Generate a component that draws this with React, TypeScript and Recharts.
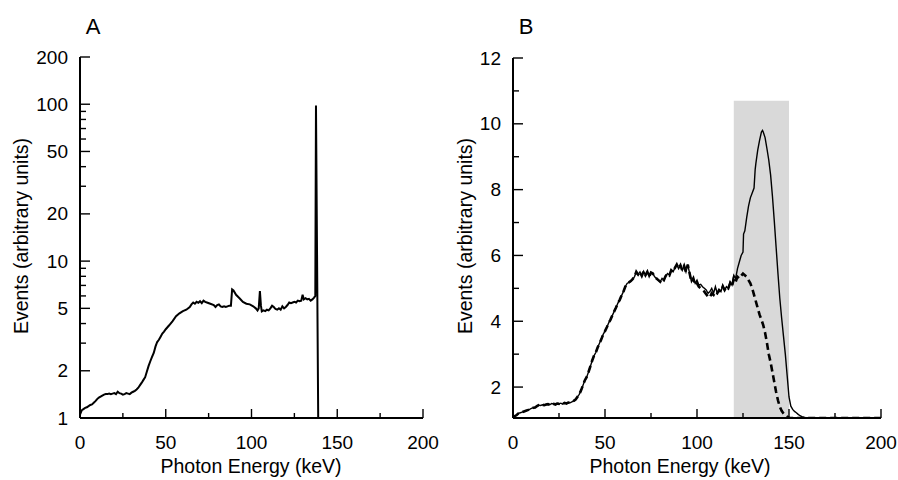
import React from "react";
import { LineChart, Line, XAxis, YAxis, ReferenceArea } from "recharts";

// ---------- Panel A data (log scale) ----------
const energyA = [
  0, 1, 2, 3, 4, 5, 6, 7, 8, 9,
  10, 11, 12, 13, 14, 15, 16, 17, 18, 19,
  20, 21, 22, 23, 24, 25, 26, 27, 28, 29,
  30, 31, 32, 33, 34, 35, 36, 37, 38, 39,
  40, 41, 42, 43, 44, 45, 46, 47, 48, 49,
  50, 52, 54, 56, 58, 60, 62, 64, 65, 66,
  67, 68, 69, 70, 71, 72, 73, 74, 76, 78,
  79, 80, 81, 82, 83, 84, 85, 86, 87, 88,
  88.7, 89.5, 91, 93, 95, 97, 99, 101, 102.5, 103.5,
  104.2, 104.9, 105.5, 106, 107, 108, 109, 110, 111, 112,
  113, 114, 115, 116, 117, 118, 119, 120, 121, 122,
  123, 124, 125, 126, 127, 128, 129, 129.8, 130.5, 131.5,
  132.5, 133.5, 134.5, 135.5, 136.5, 137.2, 137.6, 138.9, 145, 200,
];
const eventsA = [
  1.05, 1.12, 1.14, 1.16, 1.17, 1.19, 1.21, 1.22, 1.25, 1.28,
  1.32, 1.35, 1.37, 1.39, 1.41, 1.42, 1.42, 1.43, 1.42, 1.43,
  1.44, 1.42, 1.47, 1.44, 1.43, 1.41, 1.42, 1.44, 1.43, 1.42,
  1.45, 1.47, 1.49, 1.52, 1.56, 1.62, 1.68, 1.75, 1.82, 1.98,
  2.15, 2.3, 2.45, 2.6, 2.85, 3.05, 3.15, 3.3, 3.45, 3.55,
  3.68, 3.9, 4.15, 4.45, 4.65, 4.8, 4.9, 5.1, 5.3, 5.45,
  5.35, 5.5, 5.42, 5.55, 5.4, 5.6, 5.5, 5.45, 5.35, 5.25,
  5.1, 5.25, 5.3, 5.15, 5.1, 5.15, 5.1, 5.15, 5.2, 5.2,
  6.6, 6.5, 6.1, 5.8, 5.5, 5.35, 5.3, 5.15, 5.0, 4.85,
  5.0, 6.45, 5.2, 4.78, 4.85, 4.8, 4.9, 4.85, 5.0, 5.2,
  5.1, 4.95, 4.9, 5.0, 4.9, 5.15, 5.0, 5.1, 5.25, 5.45,
  5.4, 5.45, 5.5, 5.45, 5.6, 5.55, 5.6, 6.1, 5.7, 5.8,
  5.7, 5.75, 5.6, 5.7, 5.85, 6.0, 98, 1, 1, 1,
];

// ---------- Panel B data (linear scale) ----------
const lowEnergyB = [
  0, 1, 2, 3, 4, 5, 6, 7, 8, 9,
  10, 11, 12, 13, 14, 15, 16, 17, 18, 19,
  20, 21, 22, 23, 24, 25, 26, 27, 28, 29,
  30, 31, 32, 33, 34, 35, 36, 37, 38, 39,
  40, 41, 42, 43, 44, 45, 46, 47, 48, 49,
  50, 51, 52, 53, 54, 55, 56, 57, 58, 59,
  60, 61, 62, 63, 64, 65, 66, 67, 68, 69,
  70, 71, 72, 73, 74, 75, 76, 77, 78, 79,
  80, 81, 82, 83, 84, 85, 86, 87, 88, 89,
  90, 91, 92, 93, 94, 95, 96,
];
const lowEventsB = [
  1.08, 1.12, 1.15, 1.2, 1.22, 1.24, 1.26, 1.28, 1.3, 1.32,
  1.35, 1.37, 1.38, 1.42, 1.45, 1.44, 1.46, 1.45, 1.47, 1.48,
  1.46, 1.5, 1.49, 1.47, 1.5, 1.49, 1.51, 1.48, 1.52, 1.5,
  1.53, 1.52, 1.55, 1.58, 1.62, 1.7, 1.78, 1.9, 2.05, 2.2,
  2.3, 2.45, 2.62, 2.8, 2.95, 3.05, 3.2, 3.33, 3.45, 3.6,
  3.7, 3.82, 3.95, 4.05, 4.18, 4.3, 4.42, 4.55, 4.65, 4.78,
  4.9, 5.05, 5.15, 5.18, 5.22, 5.28, 5.35, 5.5, 5.42, 5.5,
  5.38, 5.52, 5.4, 5.5, 5.35, 5.48, 5.45, 5.35, 5.3, 5.25,
  5.2, 5.3, 5.25, 5.38, 5.45, 5.4, 5.55, 5.5, 5.62, 5.72,
  5.6, 5.7, 5.55, 5.68, 5.5, 5.72, 5.45,
];

const solidTailEnergy = [
  97, 98, 99, 100, 101, 102, 103, 104, 105, 106,
  107, 108, 109, 110, 111, 112, 113, 114, 115, 116,
  117, 118, 119, 120, 121, 122, 123, 124, 125, 125.3,
  126, 127, 128, 129, 130, 131, 131.6, 132, 133, 134,
  135, 135.6, 136, 137, 138, 139, 140, 141, 142, 143,
  144, 145, 146, 147, 148, 149, 150, 151, 152, 153,
  154, 155, 156, 157, 159, 161, 200,
];
const solidTailEvents = [
  5.2, 5.3, 5.15, 5.25, 5.1, 5.12, 5.05, 5.0, 4.95, 4.85,
  4.9, 5.0, 4.85, 5.05, 4.85, 4.95, 4.9, 5.1, 4.95, 5.05,
  5.0, 5.2, 5.1, 5.4, 5.3, 5.6, 5.8, 6.0, 6.1, 6.65,
  6.75, 7.15, 7.5, 7.75, 7.9, 8.05, 8.6, 8.8, 9.2, 9.5,
  9.75, 9.8, 9.75, 9.58, 9.25, 8.9, 8.45, 7.8, 7.05, 6.25,
  5.45, 4.7, 4.1, 3.55, 3.0, 2.35, 1.7, 1.42, 1.32, 1.26,
  1.22, 1.17, 1.13, 1.1, 1.07, 1.06, 1.06,
];

const dashedTailEnergy = [
  97, 98, 99, 100, 101, 102, 103, 104, 105, 106,
  107, 108, 109, 110, 111, 112, 113, 114, 115, 116,
  117, 118, 119, 120, 121, 122, 123, 124, 125, 126,
  127, 128, 129, 130, 131, 132, 133, 134, 135, 136,
  137, 138, 139, 140, 141, 142, 143, 144, 145, 146,
  147, 148, 149, 150, 152, 200,
];
const dashedTailEvents = [
  5.2, 5.3, 5.1, 5.15, 5.05, 5.0, 4.95, 4.9, 4.82, 4.75,
  4.72, 4.85, 4.8, 4.9, 4.85, 4.95, 4.9, 5.05, 4.95, 5.05,
  5.0, 5.15, 5.05, 5.3, 5.2, 5.35, 5.3, 5.38, 5.45, 5.4,
  5.35, 5.25, 5.15, 5.0, 4.8, 4.6, 4.4, 4.2, 4.05, 3.88,
  3.65, 3.35, 3.0, 2.75, 2.45, 2.15, 1.85, 1.6, 1.4, 1.28,
  1.2, 1.14, 1.1, 1.07, 1.06, 1.06,
];

const majorTicksA = [1, 2, 5, 10, 20, 50, 100, 200];
const allTicksA = [1, 2, 3, 4, 5, 6, 7, 8, 9, 10, 20, 30, 40, 50, 60, 70, 80, 90, 100, 200];
const majorTicksB = [2, 4, 6, 8, 10, 12];
const allTicksB = [2, 3, 4, 5, 6, 7, 8, 9, 10, 11, 12];
const majorTicksX = [0, 50, 100, 150, 200];
const allTicksX = [0, 25, 50, 75, 100, 125, 150, 175, 200];
const bandB = { from: 120, to: 150, top: 10.7 };
const yMinB = 1.06;

const FONT = "'Liberation Sans', Arial, Helvetica, sans-serif";

const dataA = energyA.map((e, i) => ({ e, v: eventsA[i] }));
const solidB = [
  ...lowEnergyB.map((e, i) => ({ e, v: lowEventsB[i] })),
  ...solidTailEnergy.map((e, i) => ({ e, v: solidTailEvents[i] })),
];
const dashedB = [
  ...lowEnergyB.map((e, i) => ({ e, v: lowEventsB[i] })),
  ...dashedTailEnergy.map((e, i) => ({ e, v: dashedTailEvents[i] })),
];

const makeYTick = (majors: number[]) => (props: any) => {
  const { x, y, payload } = props;
  const v = payload.value;
  const major = majors.includes(v);
  return (
    <g>
      <line x1={x} x2={x + (major ? 10 : 6)} y1={y} y2={y} stroke="#000" strokeWidth={1.4} />
      {major && (
        <text x={x - 12} y={y} textAnchor="end" dominantBaseline="central" fontSize={19} fontFamily={FONT} fill="#000">
          {v}
        </text>
      )}
    </g>
  );
};

const XTick = (props: any) => {
  const { x, y, payload } = props;
  const v = payload.value;
  const major = majorTicksX.includes(v);
  return (
    <g>
      <line x1={x} x2={x} y1={y} y2={y - (major ? 9 : 5)} stroke="#000" strokeWidth={1.4} />
      {major && (
        <text x={x} y={y + 24} textAnchor="middle" dominantBaseline="central" fontSize={19} fontFamily={FONT} fill="#000">
          {v}
        </text>
      )}
    </g>
  );
};

const YTickA = makeYTick(majorTicksA);
const YTickB = makeYTick(majorTicksB);

const textStyle: React.CSSProperties = {
  position: "absolute",
  fontFamily: FONT,
  color: "#000",
  whiteSpace: "nowrap",
  lineHeight: 1,
};

export default function App() {
  return (
    <div style={{ position: "absolute", left: 0, top: 0, width: 898, height: 480, background: "#fff", overflow: "hidden" }}>
      <div style={{ position: "absolute", left: 0, top: 0 }}>
        <LineChart width={450} height={480} data={dataA} margin={{ top: 57, right: 27, bottom: 0, left: 0 }}>
          <XAxis
            dataKey="e"
            type="number"
            domain={[0, 200]}
            ticks={allTicksX}
            interval={0}
            tickSize={0}
            tickMargin={0}
            tickLine={false}
            height={62}
            axisLine={{ stroke: "#000", strokeWidth: 2 }}
            tick={<XTick />}
          />
          <YAxis
            type="number"
            scale="log"
            domain={[1, 200]}
            ticks={allTicksA}
            interval={0}
            tickSize={0}
            tickMargin={0}
            tickLine={false}
            width={80}
            axisLine={{ stroke: "#000", strokeWidth: 2 }}
            tick={<YTickA />}
            allowDataOverflow
          />
          <Line dataKey="v" stroke="#000" strokeWidth={2} dot={false} isAnimationActive={false} type="linear" />
        </LineChart>
      </div>
      <div style={{ position: "absolute", left: 450, top: 0 }}>
        <LineChart width={448} height={480} margin={{ top: 58, right: 17, bottom: 0, left: 0 }}>
          <XAxis
            dataKey="e"
            type="number"
            domain={[0, 200]}
            ticks={allTicksX}
            interval={0}
            tickSize={0}
            tickMargin={0}
            tickLine={false}
            height={62}
            axisLine={{ stroke: "#000", strokeWidth: 2 }}
            tick={<XTick />}
            allowDataOverflow
          />
          <YAxis
            type="number"
            domain={[yMinB, 12]}
            ticks={allTicksB}
            interval={0}
            tickSize={0}
            tickMargin={0}
            tickLine={false}
            width={63}
            axisLine={{ stroke: "#000", strokeWidth: 2 }}
            tick={<YTickB />}
            allowDataOverflow
          />
          <ReferenceArea x1={bandB.from} x2={bandB.to} y1={yMinB} y2={bandB.top} fill="#d9d9d9" fillOpacity={1} stroke="none" ifOverflow="extendDomain" />
          <Line data={solidB} dataKey="v" stroke="#000" strokeWidth={1.4} dot={false} isAnimationActive={false} type="linear" />
          <Line data={dashedB} dataKey="v" stroke="#000" strokeWidth={2.6} strokeDasharray="7 4" dot={false} isAnimationActive={false} type="linear" />
        </LineChart>
      </div>

      <div style={{ ...textStyle, left: 93, top: 27, fontSize: 22, transform: "translate(-50%, -50%)" }}>A</div>
      <div style={{ ...textStyle, left: 526, top: 27, fontSize: 22, transform: "translate(-50%, -50%)" }}>B</div>

      <div style={{ ...textStyle, left: 251, top: 467, fontSize: 19.5, transform: "translate(-50%, -50%)" }}>Photon Energy (keV)</div>
      <div style={{ ...textStyle, left: 680, top: 467, fontSize: 19.5, transform: "translate(-50%, -50%)" }}>Photon Energy (keV)</div>

      <div style={{ ...textStyle, left: 22, top: 236, fontSize: 19.5, transform: "translate(-50%, -50%) rotate(-90deg)" }}>Events (arbitrary units)</div>
      <div style={{ ...textStyle, left: 466, top: 236, fontSize: 19.5, transform: "translate(-50%, -50%) rotate(-90deg)" }}>Events (arbitrary units)</div>
    </div>
  );
}
